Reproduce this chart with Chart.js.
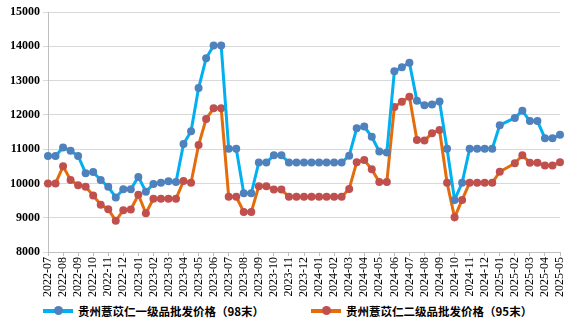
<!DOCTYPE html>
<html>
<head>
<meta charset="utf-8">
<script src="https://cdn.jsdelivr.net/npm/chart.js@4/dist/chart.umd.min.js"></script>
<style>
  body { margin: 0; background: #fff; }
  #wrap { position: relative; width: 582px; height: 329px; }
  #myChart { position: absolute; left: 0; top: 0; }
  #legend {
    position: absolute; left: 43px; top: 303px; height: 16px;
    display: flex; align-items: center; gap: 47px;
    font-family: "Noto Sans CJK SC", sans-serif; font-weight: bold; font-size: 11.5px; color: #000;
  }
  .item { display: flex; align-items: center; white-space: nowrap; }
  .mark { position: relative; width: 30px; height: 4px; margin-right: 5px; }
  .mark i { position: absolute; left: 11px; top: -3px; width: 9px; height: 9px; border-radius: 50%; }
</style>
</head>
<body>
<div id="wrap">
  <canvas id="myChart" width="582" height="300"></canvas>
  <div id="legend"></div>
</div>
<script>
// month tick labels (one every two data slots)
const months = [
  '2022-07','2022-08','2022-09','2022-10','2022-11','2022-12',
  '2023-01','2023-02','2023-03','2023-04','2023-05','2023-06',
  '2023-07','2023-08','2023-09','2023-10','2023-11','2023-12',
  '2024-01','2024-02','2024-03','2024-04','2024-05','2024-06',
  '2024-07','2024-08','2024-09','2024-10','2024-11','2024-12',
  '2025-01','2025-02','2025-03','2025-04','2025-05'
];

const seriesNames = ['贵州薏苡仁一级品批发价格（98末）', '贵州薏苡仁二级品批发价格（95末）'];

// 98末
const grade1 = [
  10800, 10800, 11050, 10950, 10800, 10300, 10330, 10100, 9900, 9590,
  9830, 9830, 10190, 9760, 9980, 10020, 10060, 10040, 11150, 11520,
  12780, 13650, 14020, 14020, 11010, 11010, 9710, 9710, 10610, 10610,
  10820, 10820, 10610, 10610, 10610, 10610, 10610, 10610, 10610, 10610,
  10810, 11610, 11660, 11360, 10930, 10900, 13270, 13390, 13520, 12410,
  12280, 12300, 12390, 11010, 9520, 10020, 11010, 11010, 11010, 11010,
  11700, null, 11910, 12120, 11820, 11820, 11320, 11320, 11420
];

// 95末
const grade2 = [
  10000, 10000, 10500, 10100, 9950, 9900, 9650, 9380, 9250, 8910,
  9220, 9240, 9670, 9130, 9550, 9550, 9550, 9550, 10070, 10020,
  11120, 11880, 12190, 12190, 9610, 9610, 9170, 9170, 9920, 9920,
  9820, 9820, 9610, 9610, 9610, 9610, 9610, 9610, 9610, 9610,
  9840, 10620, 10680, 10410, 10040, 10040, 12230, 12380, 12530, 11270,
  11250, 11460, 11560, 10020, 9010, 9520, 10020, 10020, 10020, 10020,
  10340, null, 10590, 10820, 10605, 10605, 10520, 10520, 10620
];

const lineColors = ['#00B0F0', '#E46C0A'];
const pointColors = ['#4F81BD', '#C0504D'];

// two data slots per month
const labels = [];
for (let i = 0; i < grade1.length; i++) {
  labels.push(i % 2 === 0 ? months[i / 2] : '');
}

function makeSet(name, data, k) {
  return {
    label: name,
    data: data,
    borderColor: lineColors[k],
    borderWidth: 3,
    pointRadius: 4,
    pointHoverRadius: 4,
    pointBackgroundColor: pointColors[k],
    pointBorderWidth: 0,
    tension: 0,
    spanGaps: true
  };
}

function initialize() {
  const ctx = document.getElementById('myChart').getContext('2d');
  const myChart = new Chart(ctx, {
    type: 'line',
    data: {
      labels: labels,
      datasets: [makeSet(seriesNames[0], grade1, 0), makeSet(seriesNames[1], grade2, 1)]
    },
    options: {
      responsive: false,
      animation: false,
      layout: { padding: { top: 12, right: 22, left: 0, bottom: 0 } },
      plugins: { legend: { display: false }, tooltip: { enabled: false } },
      scales: {
        x: {
          afterFit: (s) => { s.height = 48; },
          border: { color: '#bfbfbf' },
          grid: {
            drawOnChartArea: false,
            tickLength: 4,
            tickColor: (c) => (c.index % 2 === 0 ? '#bfbfbf' : 'rgba(0,0,0,0)')
          },
          ticks: {
            autoSkip: false,
            maxRotation: 90,
            minRotation: 90,
            padding: 1,
            color: '#000',
            font: { family: 'Liberation Serif', size: 12 }
          }
        },
        y: {
          min: 8000,
          max: 15000,
          afterFit: (s) => { s.width = 48; },
          border: { color: '#bfbfbf' },
          grid: { color: '#d9d9d9', tickLength: 5 },
          ticks: {
            stepSize: 1000,
            padding: 3,
            color: '#000',
            font: { family: 'Liberation Serif', size: 12, weight: 'bold' },
            callback: (v) => String(v)
          }
        }
      }
    }
  });

  // legend below the chart
  const legend = document.getElementById('legend');
  seriesNames.forEach((name, k) => {
    const item = document.createElement('span');
    item.className = 'item';
    item.innerHTML = '<span class="mark" style="background:' + lineColors[k] + '"><i style="background:' +
      pointColors[k] + '"></i></span><span>' + name + '</span>';
    legend.appendChild(item);
  });
}
initialize();
</script>
</body>
</html>
